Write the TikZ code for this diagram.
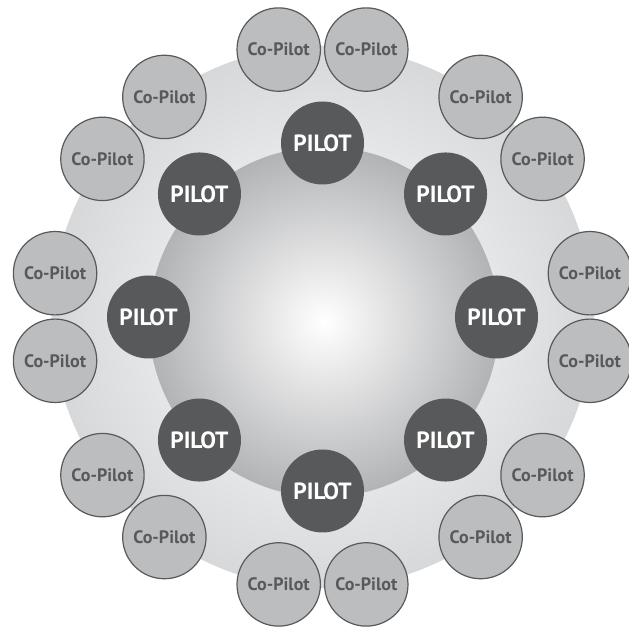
\documentclass[tikz,border=0pt]{standalone}
\usepackage{fontspec}
\setmainfont{PT Sans}
\usepackage{tikz}
\usetikzlibrary{calc}
\definecolor{pilotgray}{HTML}{58595B}
\definecolor{copilotgray}{HTML}{BCBDBF}
\definecolor{ringgray}{HTML}{D7D8DA}
\definecolor{spheregray}{HTML}{B2B3B5}

\begin{document}
\begin{tikzpicture}[x=1pt,y=1pt,
  pilot/.style={circle,fill=pilotgray,minimum size=83pt,inner sep=0pt,text=white,font=\fontsize{23.5}{23.5}\selectfont\bfseries},
  copilot/.style={circle,draw=pilotgray,line width=1.2pt,fill=copilotgray,minimum size=83.4pt,inner sep=0pt,text=pilotgray,font=\fontsize{18}{18}\selectfont\bfseries}]
\useasboundingbox (0,0) rectangle (629,629);
\coordinate (o) at (322.5,312);
\coordinate (s) at (324,307);
\shade[inner color=white,outer color=ringgray] (o) circle (271);
\shade[inner color=white,outer color=spheregray] (s) circle (175);
\foreach \i in {0,...,7}{
  \node[pilot] (p\i) at ($(o)+(90-45*\i:174)$) {PILOT};
  \node[copilot] (c\i a) at ($(o)+(99.3-45*\i:271)$) {Co-Pilot};
  \node[copilot] (c\i b) at ($(o)+(80.7-45*\i:271)$) {Co-Pilot};
}
\end{tikzpicture}
\end{document}
